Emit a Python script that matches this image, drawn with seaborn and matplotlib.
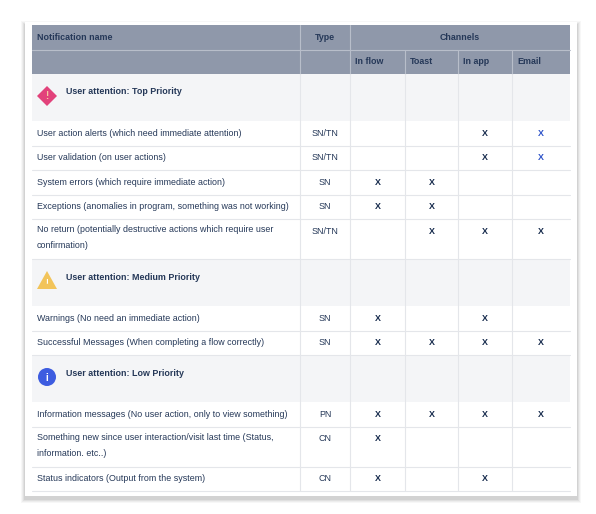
import matplotlib
matplotlib.use("Agg")
import matplotlib.pyplot as plt
import matplotlib.patches as mpatches
import seaborn as sns

sns.set_style("white")
plt.rcParams['font.family'] = ['Liberation Sans', 'DejaVu Sans']

# table content
channels = ["In flow", "Toast", "In app", "Email"]
groups = ["User attention: Top Priority", "User attention: Medium Priority", "User attention: Low Priority"]
group_icons = ["diamond", "triangle", "circle"]
row_group = [0, 0, 0, 0, 0, 1, 1, 2, 2, 2]
row_names = [
    "User action alerts (which need immediate attention)",
    "User validation (on user actions)",
    "System errors (which require immediate action)",
    "Exceptions (anomalies in program, something was not working)",
    "No return (potentially destructive actions which require user\nconfirmation)",
    "Warnings (No need an immediate action)",
    "Successful Messages (When completing a flow correctly)",
    "Information messages (No user action, only to view something)",
    "Something new since user interaction/visit last time (Status,\ninformation. etc..)",
    "Status indicators (Output from the system)",
]
row_types = ["SN/TN", "SN/TN", "SN", "SN", "SN/TN", "SN", "SN", "PN", "CN", "CN"]
# marks per channel: 0 none, 1 black X, 2 blue X
row_marks = [
    [0, 0, 1, 2],
    [0, 0, 1, 2],
    [1, 1, 0, 0],
    [1, 1, 0, 0],
    [0, 1, 1, 1],
    [1, 0, 1, 0],
    [1, 1, 1, 1],
    [1, 1, 1, 1],
    [1, 0, 0, 0],
    [1, 0, 1, 0],
]
row_lines = [1, 1, 1, 1, 2, 1, 1, 1, 2, 1]

# layout (pixels)
col_x = [32, 300, 350, 405, 458, 512, 570]
h_head = 24.5
h_group = 47
h_row = 24.5
h_row2 = 40
TXT = "#253858"
HEAD = "#8F98AA"
HEADLINE = "#B8BECA"
GROUPBG = "#F4F5F7"
LINE = "#E4E6EA"
FS = 6.4

fig = plt.figure(figsize=(5.96, 5.14), dpi=100)
ax = fig.add_axes([0, 0, 1, 1])
ax.set_xlim(0, 596)
ax.set_ylim(514, 0)
ax.axis("off")

# card + shadow
for i, a in enumerate([0.03, 0.04, 0.05, 0.06]):
    d = 4 - i
    ax.add_patch(mpatches.Rectangle((25 - d, 22 - d + 3), 552 + 2 * d, 474 + 2 * d,
                                    color="black", alpha=a, lw=0))
ax.add_patch(mpatches.Rectangle((25, 22), 552, 474, color="white", lw=0))

left, right = col_x[0], col_x[-1]
y = 25
# header rows
ax.add_patch(mpatches.Rectangle((left, y), right - left, 2 * h_head, color=HEAD, lw=0))
ax.text(37, y + h_head / 2, "Notification name", fontsize=FS, weight="bold", color=TXT, va="center")
ax.text((col_x[1] + col_x[2]) / 2, y + h_head / 2, "Type", fontsize=FS, weight="bold", color=TXT, va="center", ha="center")
ax.text((col_x[2] + col_x[6]) / 2, y + h_head / 2, "Channels", fontsize=FS, weight="bold", color=TXT, va="center", ha="center")
for c, name in enumerate(channels):
    ax.text(col_x[2 + c] + 5, y + 1.5 * h_head, name, fontsize=FS, weight="bold", color=TXT, va="center")
ax.plot([left, right], [y + h_head, y + h_head], color=HEADLINE, lw=0.8)
ax.plot([col_x[2], col_x[2]], [y, y + 2 * h_head], color=HEADLINE, lw=0.8)
ax.plot([col_x[1], col_x[1]], [y, y + 2 * h_head], color=HEADLINE, lw=0.8)
for xx in col_x[3:6]:
    ax.plot([xx, xx], [y + h_head, y + 2 * h_head], color=HEADLINE, lw=0.8)
y += 2 * h_head


def draw_icon(kind, cx, cy):
    if kind == "diamond":
        ax.add_patch(mpatches.RegularPolygon((cx, cy), 4, radius=10, color="#E2427B", lw=0))
        ax.text(cx, cy, "!", fontsize=7, color="#F4C9A0", weight="bold", ha="center", va="center")
    elif kind == "triangle":
        ax.add_patch(mpatches.Polygon([[cx - 10, cy + 8], [cx + 10, cy + 8], [cx, cy - 10]], color="#F2C45A", lw=0))
        ax.text(cx, cy + 2, "!", fontsize=6, color="white", weight="bold", ha="center", va="center")
    else:
        ax.add_patch(mpatches.Circle((cx, cy), 9, color="#3D5CE0", lw=0))
        ax.text(cx, cy + 1, "i", fontsize=7, color="white", weight="bold", ha="center", va="center")


last_group = -1
for i, name in enumerate(row_names):
    g = row_group[i]
    if g != last_group:
        ax.add_patch(mpatches.Rectangle((left, y), right - left, h_group, color=GROUPBG, lw=0))
        draw_icon(group_icons[g], 47, y + 22)
        ax.text(66, y + 18, groups[g], fontsize=FS, weight="bold", color=TXT, va="center")
        for xx in col_x[1:-1]:
            ax.plot([xx, xx], [y, y + h_group], color=LINE, lw=0.8)
        y += h_group
        last_group = g
    if row_lines[i] == 1:
        h = h_row
        ty = y + h / 2
        ax.text(37, ty, name, fontsize=FS, color=TXT, va="center")
    else:
        h = h_row2
        ty = y + 12
        ax.text(37, y + 6.5, name, fontsize=FS, color=TXT, va="top", linespacing=2.0)
    ax.text((col_x[1] + col_x[2]) / 2, ty, row_types[i], fontsize=FS, color=TXT, va="center", ha="center")
    for c, m in enumerate(row_marks[i]):
        if m:
            ax.text((col_x[2 + c] + col_x[3 + c]) / 2, ty, "X", fontsize=FS, weight="bold",
                    color="#2F54C9" if m == 2 else "#172B4D", va="center", ha="center")
    for xx in col_x[1:-1]:
        ax.plot([xx, xx], [y, y + h], color=LINE, lw=0.8)
    ax.plot([left, right], [y + h, y + h], color=LINE, lw=0.8)
    y += h

fig.savefig("out.png", dpi=100)
